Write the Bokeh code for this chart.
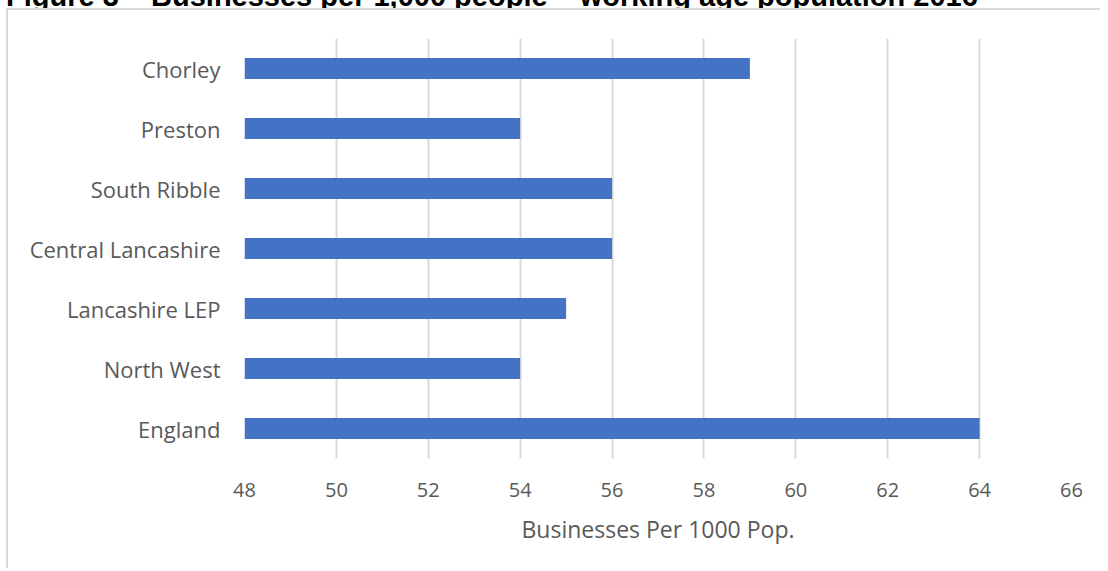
from bokeh.plotting import figure
from bokeh.models import Range1d, FactorRange, FixedTicker, ColumnDataSource, Div
from bokeh.layouts import column
from bokeh.embed import file_html
from bokeh.resources import INLINE

title_text = "Figure 3 \u2013 Businesses per 1,000 people \u2013 working age population 2016"
categories = ["Chorley", "Preston", "South Ribble", "Central Lancashire",
              "Lancashire LEP", "North West", "England"]
values = [59, 54, 56, 56, 55, 54, 64]
x_ticks = [48, 50, 52, 54, 56, 58, 60, 62, 64, 66]
x_axis_title = "Businesses Per 1000 Pop."

FONT = "Open Sans"
TEXT = "#595959"
GRID = "#D9D9D9"
BAR = "#4472C4"

src = ColumnDataSource(dict(cat=categories, val=values))

title_div = Div(
    text=('<div style="position:relative; top:-18px; left:6px; white-space:nowrap; '
          'font-family:\'Liberation Sans\'; font-weight:bold; font-size:29px; '
          'line-height:29px; color:black;">' + title_text + '</div>'),
    width=1100, height=8,
    styles={"overflow": "hidden", "margin": "0", "padding": "0"})

p = figure(width=1094, height=560, output_backend="svg", toolbar_location=None,
           x_range=Range1d(48, 66), y_range=FactorRange(*reversed(categories)),
           min_border_left=236, min_border_right=31, min_border_top=28,
           min_border_bottom=112)
p.styles = {"margin-left": "6px", "border-left": "2px solid #D9D9D9",
            "border-top": "2px solid #D9D9D9", "border-right": "none",
            "border-bottom": "none"}

p.hbar(y="cat", left=48, right="val", height=0.35, source=src,
       fill_color=BAR, line_color=None)

p.outline_line_color = None
p.background_fill_color = "white"
p.border_fill_color = "white"

p.xaxis.ticker = FixedTicker(ticks=x_ticks)
p.xaxis.axis_line_color = None
p.xaxis.major_tick_line_color = None
p.xaxis.minor_tick_line_color = None
p.xaxis.major_label_text_font = FONT
p.xaxis.major_label_text_font_size = "20px"
p.xaxis.major_label_text_color = TEXT
p.xaxis.major_label_standoff = 18
p.xaxis.axis_label = x_axis_title
p.xaxis.axis_label_text_font = FONT
p.xaxis.axis_label_text_font_size = "23px"
p.xaxis.axis_label_text_font_style = "normal"
p.xaxis.axis_label_text_color = TEXT
p.xaxis.axis_label_standoff = 13

p.yaxis.axis_line_color = None
p.yaxis.major_tick_line_color = None
p.yaxis.minor_tick_line_color = None
p.yaxis.major_label_text_font = FONT
p.yaxis.major_label_text_font_size = "22px"
p.yaxis.major_label_text_color = TEXT
p.yaxis.major_label_standoff = 18

p.xgrid.grid_line_color = GRID
p.xgrid.grid_line_width = 2
p.ygrid.grid_line_color = None

layout = column(title_div, p, spacing=0)

open("out.html", "w").write(file_html(layout, INLINE))
